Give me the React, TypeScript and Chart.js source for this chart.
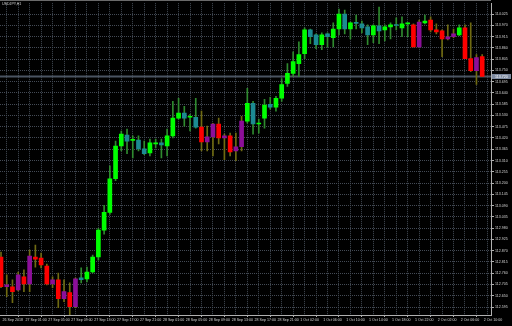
import { useEffect, useRef } from 'react';
import { Chart, registerables } from 'chart.js';

Chart.register(...registerables);

const symbolTitle = 'USDJPY,H1';

// Candle colour state per bar: L = lime (bull), T = teal, R = red (bear), P = purple
const kinds = [
  'R','P','R','P','R','P','R','R','R','P',
  'R','P','R','P','T','L','L','L','L','L',
  'L','L','T','L','T','T','L','L','T','L',
  'L','L','T','L','T','R','P','P','R','P',
  'R','P','P','L','T','L','L','T','L','L',
  'L','L','L','L','T','T','L','T','L','L',
  'T','L','T','T','T','L','T','L','L','T',
  'L','L','R','P','L','R','R','R','P','P',
  'L','R','R','P','R',
];

const opens = [
  112.839,112.694,112.694,112.679,112.742,112.708,112.839,112.834,112.795,112.708,
  112.728,112.636,112.665,112.597,112.737,112.732,112.766,112.839,112.970,113.057,
  113.221,113.381,113.434,113.410,113.410,113.367,113.347,113.391,113.396,113.381,
  113.430,113.517,113.541,113.521,113.521,113.473,113.401,113.425,113.488,113.420,
  113.430,113.357,113.377,113.502,113.589,113.488,113.517,113.584,113.570,113.614,
  113.686,113.735,113.783,113.831,113.948,113.923,113.875,113.928,113.909,113.952,
  114.025,113.952,113.982,113.977,113.962,113.923,113.967,113.948,113.962,113.972,
  113.957,113.977,113.972,113.865,113.982,113.996,113.948,113.943,113.904,113.914,
  113.923,113.957,113.807,113.749,113.817,
];

const highs = [
  112.863,112.752,112.728,112.766,112.776,112.873,112.897,112.858,112.805,112.742,
  112.761,112.728,112.713,112.737,112.786,112.790,112.849,112.979,113.091,113.284,
  113.405,113.454,113.463,113.430,113.430,113.405,113.415,113.415,113.415,113.463,
  113.599,113.614,113.575,113.536,113.614,113.551,113.478,113.492,113.517,113.439,
  113.444,113.444,113.526,113.662,113.599,113.512,113.609,113.618,113.623,113.710,
  113.783,113.841,113.889,113.957,113.952,113.928,113.933,113.933,113.982,114.049,
  114.044,113.986,114.020,113.991,113.972,113.972,114.059,113.972,113.982,114.006,
  114.011,113.982,113.977,113.996,114.020,114.011,113.977,113.948,113.972,113.952,
  113.972,113.972,113.982,113.827,113.827,
];

const lows = [
  112.689,112.645,112.616,112.674,112.670,112.670,112.790,112.786,112.703,112.689,
  112.592,112.621,112.558,112.592,112.713,112.718,112.761,112.824,112.950,113.047,
  113.212,113.357,113.343,113.323,113.357,113.338,113.333,113.372,113.323,113.333,
  113.420,113.512,113.478,113.454,113.468,113.357,113.357,113.333,113.391,113.314,
  113.333,113.309,113.357,113.492,113.439,113.444,113.468,113.560,113.551,113.599,
  113.672,113.720,113.720,113.807,113.880,113.856,113.851,113.865,113.865,113.923,
  113.928,113.904,113.952,113.933,113.875,113.885,113.880,113.894,113.904,113.948,
  113.914,113.914,113.865,113.865,113.977,113.938,113.928,113.817,113.899,113.909,
  113.919,113.807,113.744,113.681,113.720,
];

const closes = [
  112.694,112.703,112.670,112.752,112.708,112.844,112.829,112.800,112.708,112.728,
  112.636,112.670,112.597,112.732,112.728,112.766,112.839,112.970,113.057,113.221,
  113.381,113.439,113.405,113.408,113.367,113.343,113.396,113.393,113.386,113.430,
  113.517,113.541,113.517,113.524,113.473,113.401,113.425,113.488,113.420,113.430,
  113.352,113.377,113.502,113.589,113.488,113.490,113.580,113.570,113.614,113.681,
  113.735,113.793,113.827,113.948,113.914,113.875,113.923,113.914,113.952,114.025,
  113.952,113.982,113.979,113.957,113.923,113.967,113.943,113.962,113.972,113.969,
  113.977,113.979,113.865,113.986,113.991,113.948,113.938,113.904,113.914,113.928,
  113.957,113.807,113.749,113.812,113.720,
];

// Time-axis labels, one every 4 bars
const timeLabels = [
  '26 Sep 2018','27 Sep 01:00','27 Sep 05:00','27 Sep 09:00','27 Sep 13:00','27 Sep 17:00',
  '27 Sep 21:00','28 Sep 01:00','28 Sep 05:00','28 Sep 09:00','28 Sep 13:00','28 Sep 17:00',
  '28 Sep 21:00','1 Oct 02:00','1 Oct 06:00','1 Oct 10:00','1 Oct 14:00','1 Oct 18:00',
  '1 Oct 22:00','2 Oct 02:00','2 Oct 06:00','2 Oct 10:00',
];

// Price-axis labels
const priceLabels = [
  '114.025','113.970','113.915','113.860','113.805','113.750','113.695','113.640','113.585',
  '113.530','113.475','113.420','113.365','113.310','113.255','113.200','113.145','113.090',
  '113.035','112.980','112.925','112.870','112.815','112.760','112.705','112.650','112.595',
];

const bidPrice = 113.720;

const BODY: Record<string, string> = { L: '#00ff00', T: '#1c8a92', R: '#ff0000', P: '#8c0f99' };
const WICK: Record<string, string> = { L: '#2f8a2f', T: '#2f8a2f', R: '#6f6a12', P: '#6f6a12' };

const FONT = 'Liberation Sans';
const TEXT = '#d4d4d4';
const GRID = '#434a55';
const AXIS = '#b0b0b0';

export default function App() {
  const ref = useRef<HTMLCanvasElement | null>(null);

  useEffect(() => {
    document.body.style.margin = '0';
    document.body.style.background = '#000';
    const idx = opens.map((_, i) => i);
    const gridBars: number[] = [];
    for (let v = 0; v < opens.length; v += 2) gridBars.push(v);

    const overlay = {
      id: 'mt4overlay',
      beforeDatasetsDraw(chart: any) {
        const { ctx, chartArea, scales } = chart;
        const y = scales.y.getPixelForValue(bidPrice);
        ctx.save();
        ctx.strokeStyle = '#4a5462';
        ctx.lineWidth = 2;
        ctx.beginPath();
        ctx.moveTo(chartArea.left, y);
        ctx.lineTo(chartArea.right, y);
        ctx.stroke();
        ctx.restore();
      },
      afterDraw(chart: any) {
        const { ctx, chartArea, scales } = chart;
        ctx.save();
        ctx.strokeStyle = '#6a6a6a';
        ctx.lineWidth = 1;
        ctx.beginPath();
        ctx.moveTo(chartArea.left, 0.5);
        ctx.lineTo(chartArea.right, 0.5);
        ctx.stroke();
        const y = scales.y.getPixelForValue(bidPrice);
        ctx.fillStyle = '#7d8aa0';
        ctx.fillRect(chartArea.right + 1, y - 2.5, 19, 5);
        ctx.font = `3.6px "${FONT}"`;
        ctx.textAlign = 'left';
        ctx.textBaseline = 'middle';
        ctx.fillStyle = '#ffffff';
        ctx.fillText(bidPrice.toFixed(3), chartArea.right + 4, y);
        ctx.fillStyle = TEXT;
        ctx.textBaseline = 'top';
        ctx.fillText(symbolTitle, 2, 2);
        ctx.restore();
      },
    };

    const chart = new Chart(ref.current as HTMLCanvasElement, {
      type: 'bar',
      data: {
        datasets: [
          {
            label: 'wicks',
            data: idx.map((i) => ({ x: i, y: [lows[i], highs[i]] })) as any,
            backgroundColor: idx.map((i) => WICK[kinds[i]]),
            barThickness: 1,
            grouped: false,
            order: 2,
            minBarLength: 1,
            borderWidth: 0,
          } as any,
          {
            label: 'bodies',
            data: idx.map((i) => ({ x: i, y: [opens[i], closes[i]] })) as any,
            backgroundColor: idx.map((i) => BODY[kinds[i]]),
            barThickness: 4,
            grouped: false,
            order: 1,
            minBarLength: 1,
            borderWidth: 0,
          } as any,
        ],
      },
      options: {
        responsive: false,
        animation: false,
        devicePixelRatio: 1,
        layout: { padding: { top: 1, left: 0, right: 0, bottom: 0 }, autoPadding: false } as any,
        plugins: {
          legend: { display: false },
          tooltip: { enabled: false },
          title: { display: false },
        },
        scales: {
          x: {
            type: 'linear',
            min: -0.175,
            max: 85.54,
            offset: false,
            afterBuildTicks: (s: any) => {
              s.ticks = gridBars.map((v) => ({ value: v }));
            },
            afterFit: (s: any) => {
              s.height = 11;
            },
            ticks: {
              autoSkip: false,
              maxRotation: 0,
              minRotation: 0,
              align: 'start',
              labelOffset: 1.5,
              padding: 1,
              color: TEXT,
              font: { family: FONT, size: 3.6 },
              callback: (_v: any, index: number) => (index % 2 === 0 ? timeLabels[index / 2] ?? '' : ''),
            },
            grid: {
              color: GRID,
              lineWidth: 1,
              drawTicks: true,
              tickLength: 2,
              tickColor: (ctx: any) => (ctx.index % 2 === 0 ? AXIS : 'rgba(0,0,0,0)'),
            },
            border: { display: true, color: AXIS, width: 1, dash: [1, 1] },
          } as any,
          y: {
            type: 'linear',
            position: 'right',
            min: 112.556,
            max: 114.078,
            afterBuildTicks: (s: any) => {
              s.ticks = priceLabels.map((t) => ({ value: parseFloat(t) }));
            },
            afterFit: (s: any) => {
              s.width = 21;
            },
            ticks: {
              autoSkip: false,
              padding: 1,
              color: TEXT,
              font: { family: FONT, size: 3.6 },
              callback: (_v: any, index: number) => priceLabels[index],
            },
            grid: {
              color: GRID,
              lineWidth: 1,
              drawTicks: true,
              tickLength: 3,
              tickColor: AXIS,
            },
            border: { display: true, color: AXIS, width: 1, dash: [1, 1] },
          } as any,
        },
      },
      plugins: [overlay],
    });

    return () => chart.destroy();
  }, []);

  return (
    <div style={{ position: 'fixed', left: 0, top: 0, width: 512, height: 326, background: '#000' }}>
      <canvas ref={ref} width={512} height={326} style={{ display: 'block', width: 512, height: 326 }} />
    </div>
  );
}
